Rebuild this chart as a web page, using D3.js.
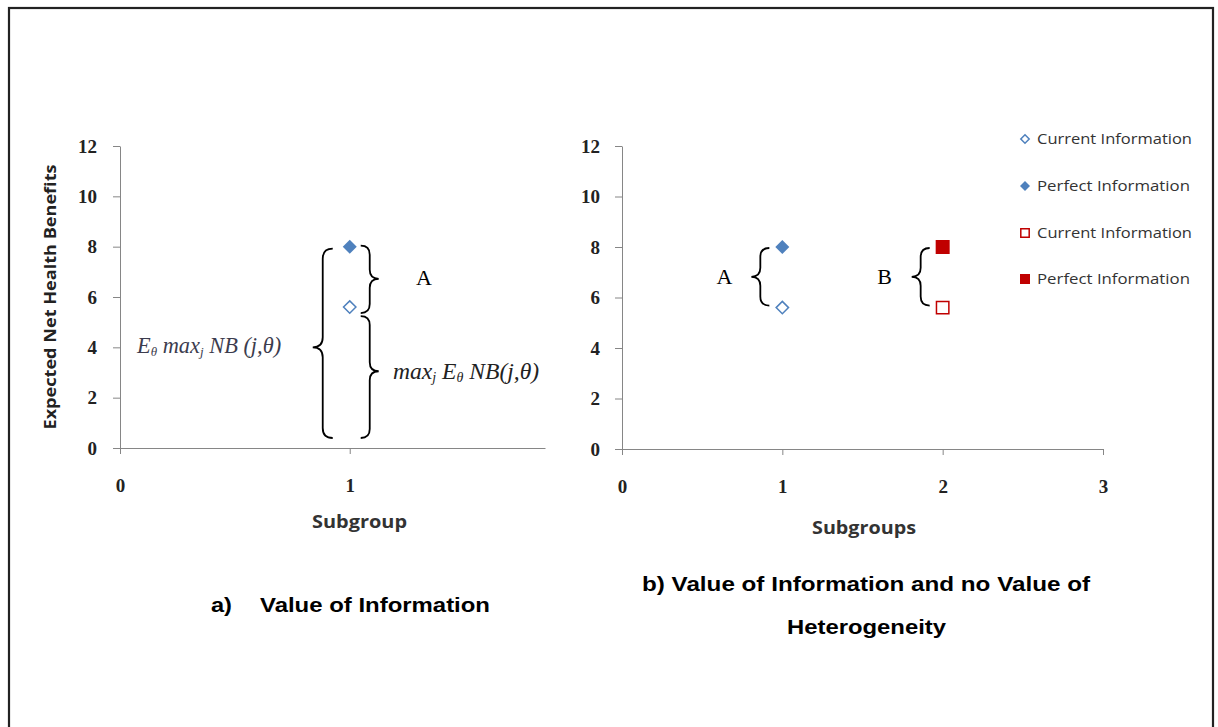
<!DOCTYPE html>
<html>
<head>
<meta charset="utf-8">
<script src="https://cdn.jsdelivr.net/npm/d3@7"></script>
<style>
  html, body { margin: 0; padding: 0; background: #fff; }
  svg { display: block; }
</style>
</head>
<body>
<svg id="chart" width="1218" height="727"></svg>
<script>
// ---- values ----
const yTicks = [0, 2, 4, 6, 8, 10, 12];
const xTicksA = [0, 1];
const xTicksB = [0, 1, 2, 3];

// panel a) one subgroup
const subgroupA = [1, 1];
const valueA = [5.6, 8];            // current, perfect

// panel b) two subgroups
const subgroupB = [1, 1, 2, 2];
const valueB = [5.6, 8, 5.6, 8];    // current, perfect, current, perfect
const legendLabels = ["Current Information", "Perfect Information", "Current Information", "Perfect Information"];

const yTitle = "Expected Net Health Benefits";
const xTitleA = "Subgroup";
const xTitleB = "Subgroups";

// ---- styles ----
const BLUE = "#4F81BD", RED = "#C00000", AXIS = "#868686";
const markerKind = [
  { shape: "diamond", color: BLUE, filled: false },
  { shape: "diamond", color: BLUE, filled: true },
  { shape: "square", color: RED, filled: false },
  { shape: "square", color: RED, filled: true }
];

const svg = d3.select("#chart");

// outer frame
svg.append("rect").attr("x", 9).attr("y", 8).attr("width", 1204).attr("height", 740)
  .attr("fill", "none").attr("stroke", "#222").attr("stroke-width", 2.2);

function markerPath(shape, r) {
  if (shape === "diamond") return `M0,${-r}L${r},0L0,${r}L${-r},0Z`;
  return `M${-r},${-r}H${r}V${r}H${-r}Z`;
}

function drawMarker(g, x, y, kind, r) {
  const filled = kind.filled;
  g.append("path")
    .attr("transform", `translate(${x},${y})`)
    .attr("d", markerPath(kind.shape, filled ? r : r - 0.8))
    .attr("fill", filled ? kind.color : "#fff")
    .attr("stroke", kind.color)
    .attr("stroke-width", filled ? 0 : 1.5);
}

// vertical curly brace; dir = -1 points left, +1 points right
function bracePath(x, y1, y2, ym, dir, w) {
  const r = w / 2;
  const tip = x - dir * r, pt = x + dir * r;
  return `M${tip},${y1} Q${x},${y1} ${x},${y1 + r} L${x},${ym - r} Q${x},${ym} ${pt},${ym}` +
         ` Q${x},${ym} ${x},${ym + r} L${x},${y2 - r} Q${x},${y2} ${tip},${y2}`;
}
function drawBrace(g, x, y1, y2, ym, dir, w) {
  g.append("path").attr("d", bracePath(x, y1, y2, ym, dir, w))
    .attr("fill", "none").attr("stroke", "#000").attr("stroke-width", 1.8);
}

function styleAxis(sel) {
  sel.selectAll("path, line").attr("stroke", AXIS).attr("stroke-width", 1);
  sel.selectAll("text").attr("font-family", "'Liberation Serif', serif")
    .attr("font-weight", "bold").attr("font-size", 19).attr("fill", "#222");
}

function drawAxes(x, y, xt, yPad) {
  const gy = svg.append("g").attr("transform", `translate(${x.range()[0]},0)`)
    .call(d3.axisLeft(y).tickValues(yTicks).tickSize(7).tickSizeOuter(0).tickPadding(yPad));
  styleAxis(gy);
  const gx = svg.append("g").attr("transform", `translate(0,${y(0)})`)
    .call(d3.axisBottom(x).tickValues(xt).tickSize(6).tickSizeOuter(0).tickPadding(25).tickFormat(d3.format("d")));
  styleAxis(gx);
}

function fitText(sel, len) {
  return sel.attr("textLength", len).attr("lengthAdjust", "spacingAndGlyphs");
}

// ================= panel a =================
const xA = d3.scaleLinear().domain([0, 1.85]).range([120, 545]);
const yA = d3.scaleLinear().domain([0, 12]).range([448, 146]);
drawAxes(xA, yA, xTicksA, 16);

fitText(svg.append("text").attr("transform", `translate(56,297) rotate(-90)`)
  .attr("text-anchor", "middle").attr("font-family", "'Open Sans', sans-serif")
  .attr("font-weight", "bold").attr("font-size", 16.5).attr("fill", "#222").text(yTitle), 265);

fitText(svg.append("text").attr("x", 312).attr("y", 528)
  .attr("font-family", "'Open Sans', sans-serif").attr("font-weight", "bold")
  .attr("font-size", 18).attr("fill", "#333").text(xTitleA), 95);

const gA = svg.append("g");
subgroupA.forEach((s, i) => drawMarker(gA, xA(s), yA(valueA[i]), markerKind[i], 7));

// braces around panel a points
const cxA = xA(1);
drawBrace(gA, cxA - 27, yA(valueA[1]) + 2, yA(0) - 10, yA(4), -1, 20);
drawBrace(gA, cxA + 20, yA(valueA[1]) - 1, yA(valueA[0]) + 6, (yA(valueA[1]) + yA(valueA[0])) / 2 + 2, 1, 18);
drawBrace(gA, cxA + 20, yA(valueA[0]) + 9, yA(0) - 10, yA(3.05), 1, 18);

function serifText(x, y, anchor, size, color, italic) {
  return svg.append("text").attr("x", x).attr("y", y).attr("text-anchor", anchor)
    .attr("font-family", "'Liberation Serif', serif").attr("font-size", size)
    .attr("font-style", italic ? "italic" : "normal").attr("fill", color);
}

serifText(416, 285, "start", 22, "#000", false).text("A");

// E_θ max_j NB (j,θ)
const f1 = serifText(137, 353, "start", 22.4, "#3c3c4e", true);
f1.append("tspan").text("E");
f1.append("tspan").attr("font-size", 13).attr("dy", 3).text("θ");
f1.append("tspan").attr("dy", -3).text(" max");
f1.append("tspan").attr("font-size", 13).attr("dy", 3).text("j");
f1.append("tspan").attr("dy", -3).text(" NB (j,θ)");

// max_j E_θ NB(j,θ)
const f2 = serifText(393, 379, "start", 23.6, "#222", true);
f2.append("tspan").text("max");
f2.append("tspan").attr("font-size", 14).attr("dy", 3).text("j");
f2.append("tspan").attr("dy", -3).text(" E");
f2.append("tspan").attr("font-size", 14).attr("dy", 3).text("θ");
f2.append("tspan").attr("dy", -3).text(" NB(j,θ)");

const tA = svg.append("g").attr("font-family", "'Liberation Sans', Arial, sans-serif")
  .attr("font-weight", "bold").attr("font-size", 21).attr("fill", "#000");
fitText(tA.append("text").attr("x", 211).attr("y", 612).text("a)"), 21);
fitText(tA.append("text").attr("x", 260).attr("y", 612).text("Value of Information"), 230);

// ================= panel b =================
const xB = d3.scaleLinear().domain([0, 3]).range([622, 1103]);
const yB = d3.scaleLinear().domain([0, 12]).range([449, 146]);
drawAxes(xB, yB, xTicksB, 15);

fitText(svg.append("text").attr("x", 812).attr("y", 534)
  .attr("font-family", "'Open Sans', sans-serif").attr("font-weight", "bold")
  .attr("font-size", 18).attr("fill", "#333").text(xTitleB), 104);

const gB = svg.append("g");
subgroupB.forEach((s, i) => drawMarker(gB, xB(s), yB(valueB[i]), markerKind[i], 7));

// braces for A and B
[[1, "A"], [2, "B"]].forEach(([s, lab]) => {
  const top = yB(8) + 1, bot = yB(5.6) - 2;
  const x0 = xB(s) - 22;
  drawBrace(gB, x0, top, bot, (top + bot) / 2, -1, 18);
  serifText(x0 - 36, (top + bot) / 2 + 7, "middle", 22, "#000", false).text(lab);
});

const tB = svg.append("g").attr("font-family", "'Liberation Sans', Arial, sans-serif")
  .attr("font-weight", "bold").attr("font-size", 21).attr("fill", "#000");
fitText(tB.append("text").attr("x", 642).attr("y", 591).text("b) Value of Information and no Value of"), 448);
fitText(tB.append("text").attr("x", 787).attr("y", 634).text("Heterogeneity"), 159);

// legend
const legendY = [139, 186, 233, 279];
const gL = svg.append("g");
legendLabels.forEach((lab, i) => {
  drawMarker(gL, 1025, legendY[i], markerKind[i], 5);
  fitText(gL.append("text").attr("x", 1037).attr("y", legendY[i] + 5)
    .attr("font-family", "'Open Sans', sans-serif").attr("font-size", 15)
    .attr("fill", "#333").text(lab), i % 2 === 0 ? 155 : 153);
});
</script>
</body>
</html>
